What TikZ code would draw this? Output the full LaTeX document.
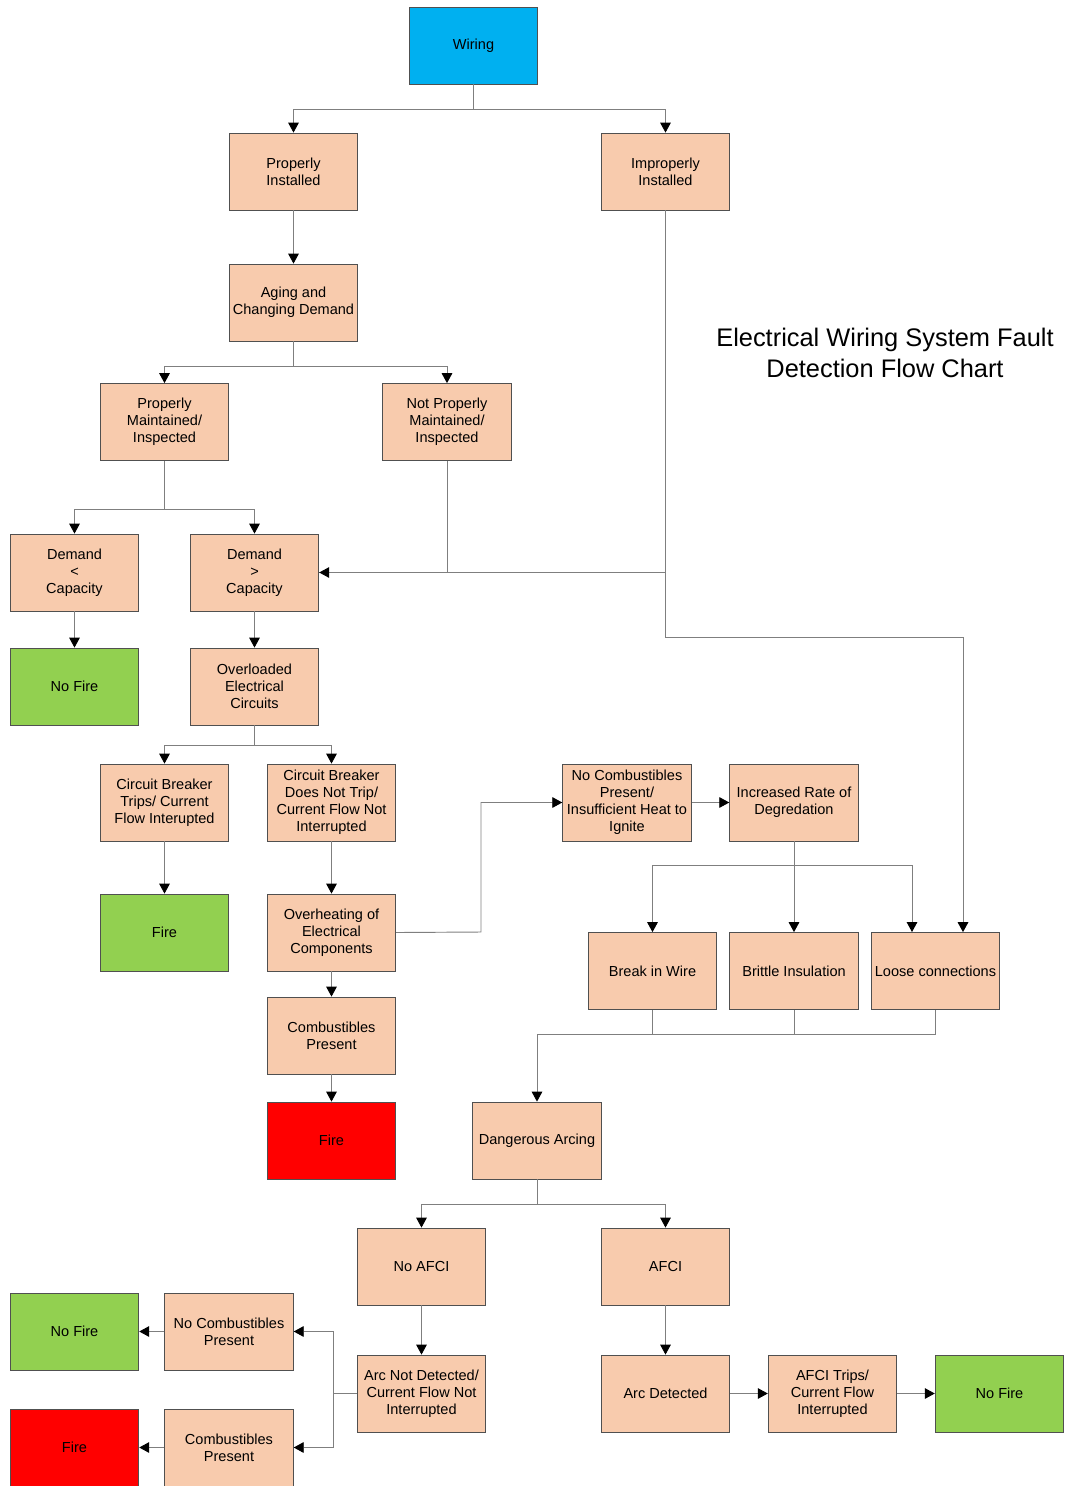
\documentclass[tikz,border=0pt]{standalone}
\usepackage{fontspec}
\setmainfont{Liberation Sans}
\usetikzlibrary{arrows.meta}
\definecolor{peach}{HTML}{F8CBAD}
\definecolor{grn}{HTML}{92D050}
\definecolor{cyanbox}{HTML}{00B0F0}
\definecolor{redbox}{HTML}{FF0000}
\definecolor{bord}{HTML}{505050}
\definecolor{conn}{HTML}{7F7F7F}
\begin{document}
\begin{tikzpicture}[x=0.75pt,y=-0.75pt,
  box/.style={draw=bord,line width=0.6pt,fill=peach,minimum width=96.5pt,minimum height=57.75pt,inner sep=0pt,align=center,font=\fontsize{10.9}{12.75}\selectfont},
  greenbox/.style={box,fill=grn},
  redb/.style={box,fill=redbox},
  bluebox/.style={box,fill=cyanbox},
  line/.style={draw=conn,line width=0.7pt},
  arr/.style={line,-{Triangle[width=8pt,length=7.5pt,black]}}]
\useasboundingbox (0,0) rectangle (1067,1486);
% nodes
\node[bluebox] (W) at (473.5,45.5) {Wiring};
\node[box] (PI) at (293.5,171.5) {Properly\\Installed};
\node[box] (II) at (665.5,171.5) {Improperly\\Installed};
\node[box] (AG) at (293.5,302.5) {Aging and\\Changing Demand};
\node[box] (PM) at (164.5,422) {Properly\\Maintained/\\Inspected};
\node[box] (NPM) at (447,422) {Not Properly\\Maintained/\\Inspected};
\node[box] (DL) at (74.5,572.5) {Demand\\<\\Capacity};
\node[box] (DG) at (254.5,572.5) {Demand\\>\\Capacity};
\node[greenbox] (NF1) at (74.5,686.5) {No Fire};
\node[box] (OL) at (254.5,686.5) {Overloaded\\Electrical\\Circuits};
\node[box] (CBT) at (164.5,802.5) {Circuit Breaker\\Trips/ Current\\Flow Interupted};
\node[box] (CBN) at (331.5,802.5) {Circuit Breaker\\Does Not Trip/\\Current Flow Not\\Interrupted};
\node[greenbox] (F1) at (164.5,932.5) {Fire};
\node[box] (OH) at (331.5,932.5) {Overheating of\\Electrical\\Components};
\node[box] (CP1) at (331.5,1035.5) {Combustibles\\Present};
\node[redb] (F2) at (331.5,1140.5) {Fire};
\node[box] (NC1) at (627,802.5) {No Combustibles\\Present/\\Insufficient Heat to\\Ignite};
\node[box] (IR) at (794,802.5) {Increased Rate of\\Degredation};
\node[box] (BW) at (652.5,971) {Break in Wire};
\node[box] (BI) at (794,971) {Brittle Insulation};
\node[box] (LC) at (935.5,971) {Loose connections};
\node[box] (DA) at (537,1140.5) {Dangerous Arcing};
\node[box] (NA) at (421.5,1266.5) {No AFCI};
\node[box] (AF) at (665.5,1266.5) {AFCI};
\node[box] (AND) at (421.5,1393.5) {Arc Not Detected/\\Current Flow Not\\Interrupted};
\node[box] (AD) at (665.5,1393.5) {Arc Detected};
\node[box] (AT) at (832.5,1393.5) {AFCI Trips/\\Current Flow\\Interrupted};
\node[greenbox] (NF3) at (999.5,1393.5) {No Fire};
\node[box] (NC2) at (229,1331.5) {No Combustibles\\Present};
\node[box] (CP2) at (229,1447.5) {Combustibles\\Present};
\node[greenbox] (NF2) at (74.5,1331.5) {No Fire};
\node[redb] (F3) at (74.5,1447.5) {Fire};
\node[align=center,font=\fontsize{19.05}{23.25}\selectfont] (T) at (885,353) {Electrical Wiring System Fault\\Detection Flow Chart};
% junction coordinates
\coordinate (jW) at (473.5,109);
\coordinate (jAG) at (293.5,366);
\coordinate (jPM) at (164.5,509);
\coordinate (jII) at (963,637);
\coordinate (jOL) at (254.5,745);
\coordinate (jOH) at (481,932);
\coordinate (jIR) at (794,865);
\coordinate (jLB) at (912,932);
\coordinate (jB) at (537,1034);
\coordinate (jDA) at (537,1204);
\coordinate (jAN) at (333,1393.5);
% connectors
\draw[line] (W.south) -- (jW);
\draw[arr] (jW) -| (PI.north);
\draw[arr] (jW) -| (II.north);
\draw[arr] (PI.south) -- (AG.north);
\draw[line] (AG.south) -- (jAG);
\draw[arr] (jAG) -| (PM.north);
\draw[arr] (jAG) -| (NPM.north);
\draw[line] (PM.south) -- (jPM);
\draw[arr] (jPM) -| (DL.north);
\draw[arr] (jPM) -| (DG.north);
\draw[line] (NPM.south) |- (DG.east);
\draw[arr] (II.south) |- (DG.east);
\draw[arr] (II.south) |- (jII) -- (jII |- LC.north);
\draw[arr] (DL.south) -- (NF1.north);
\draw[arr] (DG.south) -- (OL.north);
\draw[line] (OL.south) -- (jOL);
\draw[arr] (jOL) -| (CBT.north);
\draw[arr] (jOL) -| (CBN.north);
\draw[arr] (CBT.south) -- (F1.north);
\draw[arr] (CBN.south) -- (OH.north);
\draw[arr] (OH.east) -- (jOH) |- (NC1.west);
\draw[arr] (OH.south) -- (CP1.north);
\draw[arr] (CP1.south) -- (F2.north);
\draw[arr] (NC1.east) -- (IR.west);
\draw[line] (IR.south) -- (jIR);
\draw[arr] (jIR) -- (BI.north);
\draw[arr] (jIR) -| (BW.north);
\draw[arr] (jIR) -| (jLB);
\draw[line] (BW.south) |- (jB);
\draw[line] (BI.south) -- (BI.south |- jB);
\draw[line] (LC.south) |- (jB);
\draw[arr] (jB) -- (DA.north);
\draw[line] (DA.south) -- (jDA);
\draw[arr] (jDA) -| (NA.north);
\draw[arr] (jDA) -| (AF.north);
\draw[arr] (NA.south) -- (AND.north);
\draw[arr] (AF.south) -- (AD.north);
\draw[arr] (AD.east) -- (AT.west);
\draw[arr] (AT.east) -- (NF3.west);
\draw[line] (AND.west) -- (jAN);
\draw[arr] (jAN) |- (NC2.east);
\draw[arr] (jAN) |- (CP2.east);
\draw[arr] (NC2.west) -- (NF2.east);
\draw[arr] (CP2.west) -- (F3.east);
\end{tikzpicture}
\end{document}
